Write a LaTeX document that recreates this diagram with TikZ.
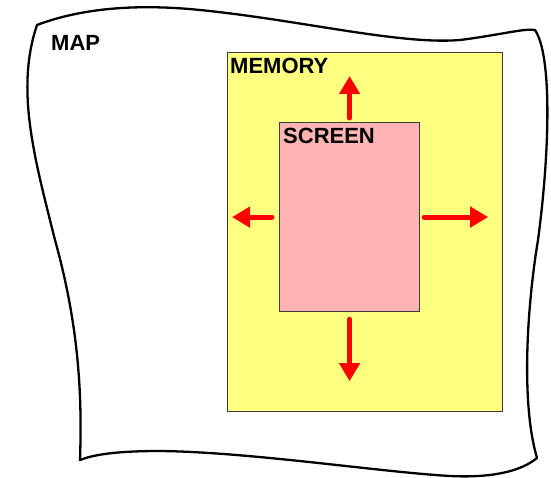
\documentclass[tikz,border=0pt]{standalone}
\usepackage{fontspec}
\setmainfont{Liberation Sans}
\usepackage{xcolor}
\usetikzlibrary{positioning, arrows.meta}

\definecolor{memyellow}{RGB}{255,255,128}
\definecolor{scrpink}{RGB}{255,180,180}
\definecolor{edgegray}{RGB}{60,60,60}

\begin{document}
\begin{tikzpicture}[
  x=1pt, y=-1pt,
  tag/.style      ={font=\fontsize{22}{24}\selectfont\bfseries, inner sep=0pt},
  memorybox/.style={rectangle, draw=edgegray, fill=memyellow, line width=1.2pt,
                    minimum width=275pt, minimum height=359pt, inner sep=0pt},
  screenbox/.style={rectangle, draw=edgegray, fill=scrpink, line width=1.2pt,
                    minimum width=140pt, minimum height=189pt, inner sep=0pt},
  scrollarrow/.style={red, line width=5pt, line cap=round,
                    -{Triangle[width=20pt, length=18pt]}},
  mapline/.style  ={black, line width=2.3pt, line join=round}
]
\useasboundingbox (0,0) rectangle (551,478);

%--- the map sheet ---------------------------------------------------------
\draw[mapline] (37,25) .. controls (90,5) and (150,5) .. (200,10)
      .. controls (300,20) and (400,45) .. (460,40)
      .. controls (500,35) and (525,28) .. (535,30)
      .. controls (552,55) and (550,150) .. (538,240)
      .. controls (528,300) and (520,400) .. (537,458)
      .. controls (520,472) and (490,478) .. (450,476)
      .. controls (380,472) and (250,452) .. (160,451)
      .. controls (120,451) and (95,454) .. (80,460)
      .. controls (82,400) and (80,330) .. (55,240)
      .. controls (35,160) and (15,90) .. (37,25) -- cycle;
\node[tag, anchor=north west] (maplabel) at (51,35) {MAP};

%--- memory and screen -----------------------------------------------------
\node[memorybox, anchor=north west] (memory) at (227,52) {};
\node[tag, below right=6pt and 3pt of memory.north west] (memlabel) {MEMORY};

\node[screenbox, below right=70pt and 52pt of memory.north west] (screen) {};
\node[tag, below right=6pt and 4pt of screen.north west] (scrlabel) {SCREEN};

%--- scrolling directions --------------------------------------------------
\coordinate[above=46pt of screen.north] (upTip);
\coordinate[below=69pt of screen.south] (downTip);
\coordinate[left=47pt of screen.west]   (leftTip);
\coordinate[right=68pt of screen.east]  (rightTip);

\draw[scrollarrow, shorten <=4pt] (screen.north) -- (upTip);
\draw[scrollarrow, shorten <=7pt] (screen.south) -- (downTip);
\draw[scrollarrow, shorten <=7pt] (screen.west)  -- (leftTip);
\draw[scrollarrow, shorten <=4pt] (screen.east)  -- (rightTip);
\end{tikzpicture}
\end{document}
